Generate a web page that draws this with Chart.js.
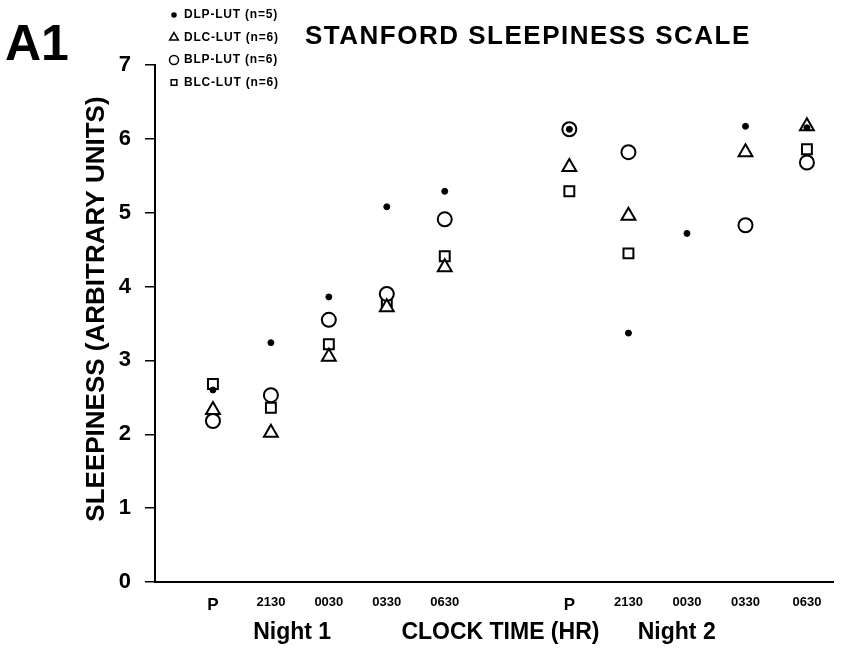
<!DOCTYPE html>
<html lang="en">
<head>
<meta charset="UTF-8">
<title>Stanford Sleepiness Scale</title>
<script src="https://cdn.jsdelivr.net/npm/chart.js"></script>
<style>
  html, body { margin: 0; padding: 0; background: #fff; }
  #wrap { width: 843px; height: 655px; }
</style>
</head>
<body>
<div id="wrap"><canvas id="chart" width="843" height="655"></canvas></div>
<script>
// sampling times, night 1 and night 2 (gap between nights)
const xPos = [1, 2, 3, 4, 5, 7.15, 8.17, 9.18, 10.19, 11.25];
const timeLabels = ['P', '2130', '0030', '0330', '0630', 'P', '2130', '0030', '0330', '0630'];

// mean sleepiness per group
const dlpLut = [2.60, 3.24, 3.86, 5.08, 5.29, 6.13, 3.37, 4.72, 6.17, 6.15];
const dlcLut = [2.33, 2.02, 3.05, 3.72, 4.26, 5.62, 4.96, null, 5.82, 6.17];
const blpLut = [2.18, 2.53, 3.55, 3.90, 4.91, 6.13, 5.82, null, 4.83, 5.68];
const blcLut = [2.68, 2.36, 3.22, 3.80, 4.41, 5.29, 4.45, null, null, 5.86];

const seriesNames = ['DLP-LUT (n=5)', 'DLC-LUT (n=6)', 'BLP-LUT (n=6)', 'BLC-LUT (n=6)'];

const FONT = '"Liberation Sans", Arial, sans-serif';

function pts(vals) {
    return vals.map((v, i) => ({ x: xPos[i], y: v }));
}

// panel tag, title and the little legend in the top left
const headerPlugin = {
    id: 'header',
    afterDraw(chart) {
        const ctx = chart.ctx;
        ctx.save();
        ctx.fillStyle = '#000';
        ctx.strokeStyle = '#000';
        ctx.textBaseline = 'middle';
        ctx.font = 'bold 50px ' + FONT;
        ctx.fillText('A1', 5, 46);
        ctx.letterSpacing = '1.5px';
        ctx.font = 'bold 26px ' + FONT;
        ctx.fillText('STANFORD SLEEPINESS SCALE', 305, 37);

        const legR = [2, 5, 4.5, 4];
        ctx.letterSpacing = '0.8px';
        ctx.font = 'bold 12px ' + FONT;
        chart.data.datasets.forEach((ds, i) => {
            const y = 15 + i * 22.5;
            ctx.lineWidth = 1.5;
            ctx.fillStyle = ds.backgroundColor;
            Chart.helpers.drawPoint(ctx, { pointStyle: ds.pointStyle, radius: legR[i], borderWidth: 1.5 }, 174, y);
            ctx.fillStyle = '#000';
            ctx.fillText(ds.label, 184, y);
        });
        ctx.restore();
    }
};

new Chart(document.getElementById('chart'), {
    type: 'scatter',
    data: {
        datasets: [
            { label: seriesNames[0], data: pts(dlpLut), pointStyle: 'circle', pointRadius: 3,
              backgroundColor: '#000', borderColor: '#000', borderWidth: 1 },
            { label: seriesNames[1], data: pts(dlcLut), pointStyle: 'triangle', pointRadius: 8,
              backgroundColor: '#fff', borderColor: '#000', borderWidth: 2 },
            { label: seriesNames[2], data: pts(blpLut), pointStyle: 'circle', pointRadius: 7,
              backgroundColor: '#fff', borderColor: '#000', borderWidth: 2 },
            { label: seriesNames[3], data: pts(blcLut), pointStyle: 'rect', pointRadius: 7,
              backgroundColor: '#fff', borderColor: '#000', borderWidth: 2 }
        ]
    },
    options: {
        responsive: false,
        animation: false,
        layout: { padding: { top: 65, right: 3, left: 0, bottom: 0 } },
        plugins: {
            legend: { display: false },
            tooltip: { enabled: false }
        },
        scales: {
            x: {
                type: 'linear',
                min: 0,
                max: 11.7,
                afterBuildTicks: (scale) => { scale.ticks = xPos.map(v => ({ value: v })); },
                afterFit: (scale) => { scale.height = 73; },
                grid: { display: false },
                border: { display: true, color: '#000', width: 2 },
                ticks: {
                    autoSkip: false,
                    maxRotation: 0,
                    padding: 5,
                    color: '#000',
                    callback: (value, index) => timeLabels[index],
                    font: (c) => timeLabels[c.index] === 'P'
                        ? { family: FONT, size: 17, weight: 'bold' }
                        : { family: FONT, size: 13, weight: 'bold' }
                },
                title: {
                    display: true,
                    text: 'Night 1           CLOCK TIME (HR)      Night 2   ',
                    color: '#000',
                    font: { family: FONT, size: 23, weight: 'bold', lineHeight: 1 },
                    padding: { top: 0, bottom: 11 }
                }
            },
            y: {
                min: 0,
                max: 7,
                afterFit: (scale) => { scale.width = 155; },
                grid: { drawOnChartArea: false, drawTicks: true, tickLength: 10, color: '#000', lineWidth: 1.5 },
                border: { display: true, color: '#000', width: 2 },
                ticks: {
                    stepSize: 1,
                    padding: 14,
                    color: '#000',
                    font: { family: FONT, size: 22, weight: 'bold' }
                },
                title: {
                    display: true,
                    text: '    SLEEPINESS (ARBITRARY UNITS)',
                    color: '#000',
                    font: { family: FONT, size: 26, weight: 'bold', lineHeight: 1 },
                    padding: { top: 84, bottom: 0 }
                }
            }
        }
    },
    plugins: [headerPlugin]
});
</script>
</body>
</html>
